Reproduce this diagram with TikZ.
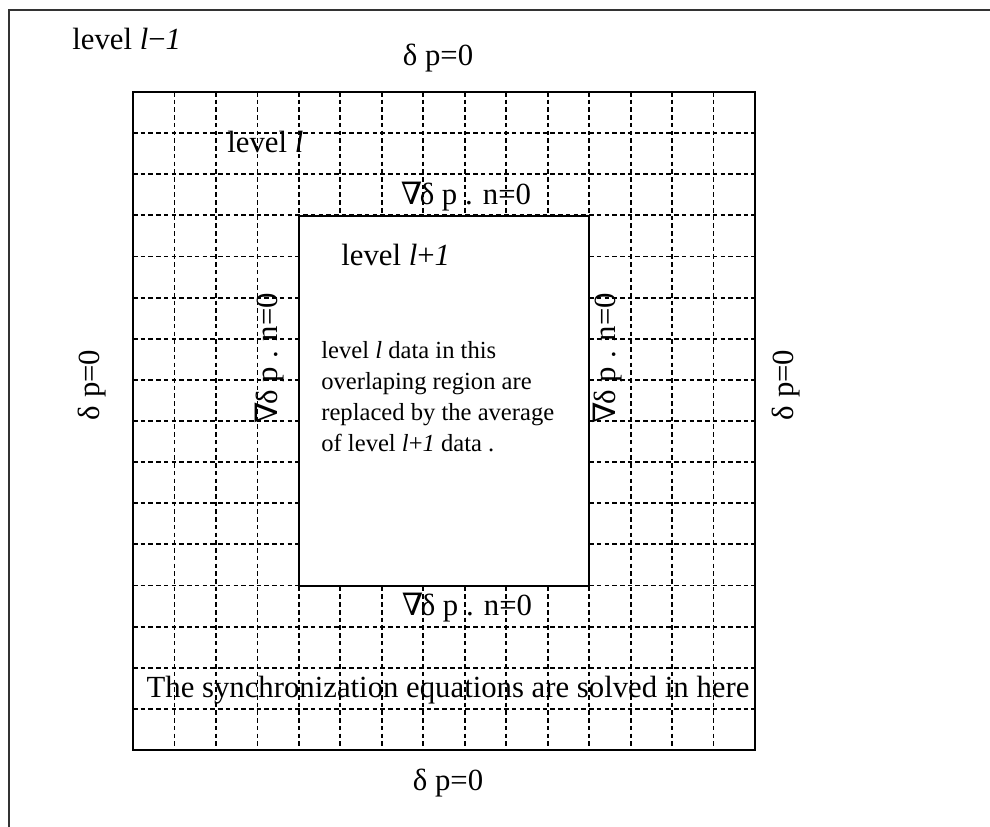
\documentclass[tikz,border=0pt]{standalone}
\usepackage{fontspec}
\setmainfont{Liberation Serif}
\newfontfamily\nablafont{DejaVu Serif}
\usepackage{xcolor}
\usepackage{tikz}
\usetikzlibrary{positioning}
\newcommand{\gradcond}{{\nablafont ∇}\kern-1.5pt δ p . n=0}
\newcommand{\dirchcond}{δ p=0}
\tikzset{
  frame/.style={draw=black!80, line width=1.5pt},
  gridline/.style={draw=black, line width=1pt, dash pattern=on 2.6pt off 1.8pt},
  region/.style={draw=black, line width=1.1pt},
  bclabel/.style={font=\fontsize{17.5}{20}\selectfont, inner sep=0pt},
  note/.style={font=\fontsize{14}{17.6}\selectfont, align=left, inner sep=0pt},
}

\begin{document}
\begin{tikzpicture}[x=0.02cm, y=-0.02cm]
  \useasboundingbox (0,0) rectangle (990,827);
  \draw[frame] (990,10) -- (9,10) -- (9,827);

  % level l grid
  \foreach \i in {1,...,14}
    \draw[gridline] (133+41.47*\i,92) -- (133+41.47*\i,750);
  \foreach \j in {1,...,15}
    \draw[gridline] (133,92+41.125*\j) -- (755,92+41.125*\j);
  \node[region, minimum width=12.44cm, minimum height=13.16cm] (coarse) at (444,421) {};
  \node[region, fill=white, minimum width=5.8cm, minimum height=7.4cm] (fine) at (444,401) {};

  \node[bclabel, anchor=base west] (lvlm) at (72,50) {level \textit{l}−\textit{1}};
  \node[bclabel, anchor=base west] (lvl) at (227,153) {level \textit{l}};
  \node[bclabel, anchor=base west] (lvlp) at (341,266) {level \textit{l}+\textit{1}};

  \node[bclabel, anchor=base] (dtop) at (438,66) {\dirchcond};
  \node[bclabel, anchor=base] (dbot) at (448,790) {\dirchcond};
  \node[bclabel, rotate=90] (dleft) at (92,385) {\dirchcond};
  \node[bclabel, rotate=90] (dright) at (786,385) {\dirchcond};

  \node[bclabel, anchor=base] (gtop) at (466,205) {\gradcond};
  \node[bclabel, anchor=base] (gbot) at (467,615) {\gradcond};
  \node[bclabel, rotate=90] (gleft) at (270,358) {\gradcond};
  \node[bclabel, rotate=90] (gright) at (608,358) {\gradcond};

  \node[note, anchor=north west] (avg) at (321,341)
    {level \textit{l} data in this\\overlaping region are\\replaced by the average\\of level \textit{l}+\textit{1} data .};
  \node[bclabel, anchor=base] (sync) at (448,697) {The synchronization equations are solved in here};
\end{tikzpicture}
\end{document}
